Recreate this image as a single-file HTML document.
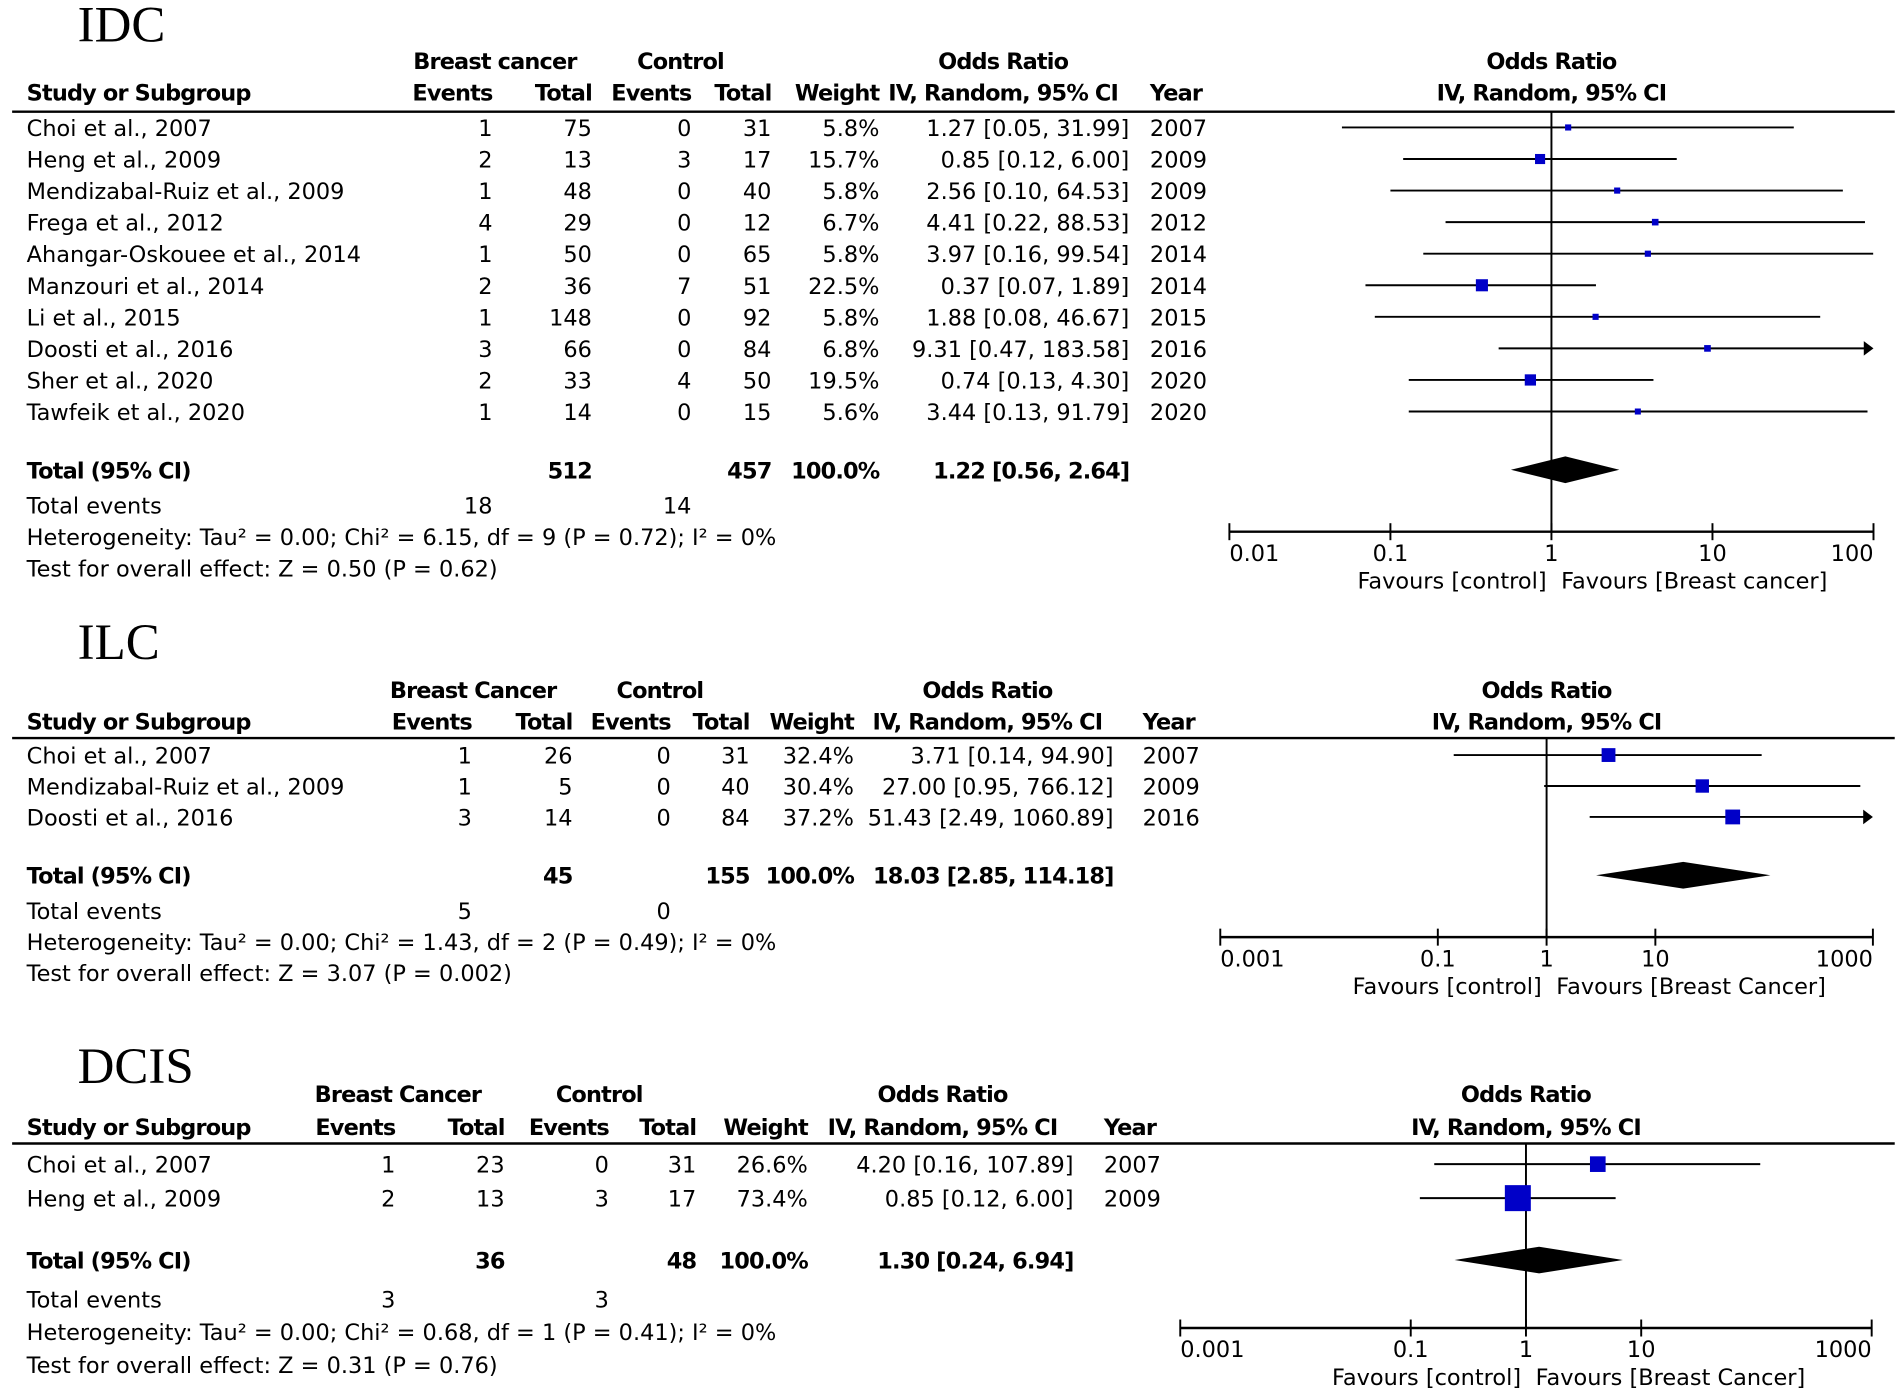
<!DOCTYPE html>
<html><head><meta charset="utf-8"><style>
html,body{margin:0;padding:0;background:#fff;}
svg{display:block;}
text{font-family:"DejaVu Sans","Liberation Sans",sans-serif;font-size:18.5px;fill:#000;}
.b{font-weight:bold;letter-spacing:-0.7px;}
.t{font-family:"Liberation Serif",serif;font-size:42px;letter-spacing:0;}
</style></head><body>
<svg id="fig" width="1902" height="1396" viewBox="0 0 1568 1150" preserveAspectRatio="none" xmlns="http://www.w3.org/2000/svg"></svg>
<script>
// ---- IDC data ----
const idcStudies=["Choi et al., 2007","Heng et al., 2009","Mendizabal-Ruiz et al., 2009","Frega et al., 2012","Ahangar-Oskouee et al., 2014","Manzouri et al., 2014","Li et al., 2015","Doosti et al., 2016","Sher et al., 2020","Tawfeik et al., 2020"];
const idcEvents1=[1,2,1,4,1,2,1,3,2,1];
const idcTotal1=[75,13,48,29,50,36,148,66,33,14];
const idcEvents2=[0,3,0,0,0,7,0,0,4,0];
const idcTotal2=[31,17,40,12,65,51,92,84,50,15];
const idcWeight=[5.8,15.7,5.8,6.7,5.8,22.5,5.8,6.8,19.5,5.6];
const idcOR=[1.27,0.85,2.56,4.41,3.97,0.37,1.88,9.31,0.74,3.44];
const idcLow=[0.05,0.12,0.10,0.22,0.16,0.07,0.08,0.47,0.13,0.13];
const idcHigh=[31.99,6.00,64.53,88.53,99.54,1.89,46.67,183.58,4.30,91.79];
const idcYear=[2007,2009,2009,2012,2014,2014,2015,2016,2020,2020];
const idcPooled=[1.22,0.56,2.64];
const idcTotals=[512,457,18,14];
const idcTicks=[0.01,0.1,1,10,100];
const idcTickLabels=["0.01","0.1","1","10","100"];
// ---- ILC data ----
const ilcStudies=["Choi et al., 2007","Mendizabal-Ruiz et al., 2009","Doosti et al., 2016"];
const ilcEvents1=[1,1,3];
const ilcTotal1=[26,5,14];
const ilcEvents2=[0,0,0];
const ilcTotal2=[31,40,84];
const ilcWeight=[32.4,30.4,37.2];
const ilcOR=[3.71,27.00,51.43];
const ilcLow=[0.14,0.95,2.49];
const ilcHigh=[94.90,766.12,1060.89];
const ilcYear=[2007,2009,2016];
const ilcPooled=[18.03,2.85,114.18];
const ilcTotals=[45,155,5,0];
const ilcTicks=[0.001,0.1,1,10,1000];
const ilcTickLabels=["0.001","0.1","1","10","1000"];
// ---- DCIS data ----
const dcisStudies=["Choi et al., 2007","Heng et al., 2009"];
const dcisEvents1=[1,2];
const dcisTotal1=[23,13];
const dcisEvents2=[0,3];
const dcisTotal2=[31,17];
const dcisWeight=[26.6,73.4];
const dcisOR=[4.20,0.85];
const dcisLow=[0.16,0.12];
const dcisHigh=[107.89,6.00];
const dcisYear=[2007,2009];
const dcisPooled=[1.30,0.24,6.94];
const dcisTotals=[36,48,3,3];
const dcisTicks=[0.001,0.1,1,10,1000];
const dcisTickLabels=["0.001","0.1","1","10","1000"];

const NS="http://www.w3.org/2000/svg";
const svg=document.getElementById('fig');
function mk(tag,attrs,parent){const e=document.createElementNS(NS,tag);for(const k in attrs)e.setAttribute(k,attrs[k]);(parent||svg).appendChild(e);return e;}
function tx(str,x,y,anchor,cls,parent){const e=mk('text',{x:x,y:y,'text-anchor':anchor||'start'},parent);if(cls)e.setAttribute('class',cls);e.textContent=str;return e;}
function f2(v){return v.toFixed(2);}

function section(c){
  const g=mk('g',{});
  
  
  const t=tx(c.title,64,c.titleY,'start','t',g);
  
  
  const h1=c.hy1,h2=c.hy2,C=c.cols;
  tx(c.grp1,C.g1,h1,'middle','b',g);tx('Control',C.g2,h1,'middle','b',g);
  tx('Odds Ratio',C.orc,h1,'middle','b',g);tx('Odds Ratio',c.x1,h1,'middle','b',g);
  tx('Study or Subgroup',22,h2,'start','b',g);
  tx('Events',C.e1,h2,'end','b',g);tx('Total',C.t1,h2,'end','b',g);
  tx('Events',C.e2,h2,'end','b',g);tx('Total',C.t2,h2,'end','b',g);
  tx('Weight',C.w,h2,'end','b',g);tx('IV, Random, 95% CI',C.orc,h2,'middle','b',g);
  tx('Year',C.yr,h2,'start','b',g);tx('IV, Random, 95% CI',c.x1,h2,'middle','b',g);
  const hl=mk('line',{x1:10,x2:1562,y1:c.lineY,y2:c.lineY,stroke:'#000','stroke-width':2},g);
  
  
  const lg=Math.log10;
  const xmin=c.ticks[0],xmax=c.ticks[c.ticks.length-1];
  const X=v=>c.x1+lg(v)*c.dec;
  const xL=X(xmin),xR=X(xmax);
  const nl=mk('line',{x1:X(1),x2:X(1),y1:c.lineY,y2:c.axisY,stroke:'#000','stroke-width':1.6},g);
  
  
  const d=c.d;
  for(let i=0;i<d.studies.length;i++){
    const y=c.row0+i*c.rowH;
    const r=mk('g',{},g);
    
    
    tx(d.studies[i],22,y,'start','',r);
    tx(String(d.e1[i]),C.e1,y,'end','',r);tx(String(d.t1[i]),C.t1,y,'end','',r);
    tx(String(d.e2[i]),C.e2,y,'end','',r);tx(String(d.t2[i]),C.t2,y,'end','',r);
    tx(d.w[i].toFixed(1)+'%',C.w,y,'end','',r);
    tx(f2(d.or[i])+' ['+f2(d.lo[i])+', '+f2(d.hi[i])+']',C.ci,y,'end','',r);
    tx(String(d.yr[i]),C.yr,y,'start','',r);
    const cy=y-7;
    const over=d.hi[i]>xmax;
    const xa=Math.max(X(d.lo[i]),xL), xb=over?xR:X(d.hi[i]);
    const ci=mk('line',{x1:xa,x2:xb-(over?6:0),y1:cy,y2:cy,stroke:'#000','stroke-width':1.6},g);
    
    
    if(over){const ar=mk('polygon',{points:(xR-8)+','+(cy-6)+' '+xR+','+cy+' '+(xR-8)+','+(cy+6),fill:'#000'},g);
      
      }
    const s=c.k*Math.sqrt(d.w[i]);
    const sq=mk('rect',{x:X(d.or[i])-s/2,y:cy-s/2,width:s,height:s,fill:'#0000c8'},g);
    
    
  }
  const ty=c.totY;
  tx('Total (95% CI)',22,ty,'start','b',g);
  tx(String(d.tot[0]),C.t1,ty,'end','b',g);tx(String(d.tot[1]),C.t2,ty,'end','b',g);
  tx('100.0%',C.w,ty,'end','b',g);
  tx(f2(d.pool[0])+' ['+f2(d.pool[1])+', '+f2(d.pool[2])+']',C.ci,ty,'end','b',g);
  const dy=ty-7,hh=11;
  const dm=mk('polygon',{points:X(d.pool[1])+','+dy+' '+X(d.pool[0])+','+(dy-hh)+' '+X(d.pool[2])+','+dy+' '+X(d.pool[0])+','+(dy+hh),fill:'#000'},g);
  
  
  tx('Total events',22,c.evY,'start','',g);
  tx(String(d.tot[2]),C.e1,c.evY,'end','',g);tx(String(d.tot[3]),C.e2,c.evY,'end','',g);
  tx(c.het,22,c.evY+c.lh,'start','',g);
  tx(c.test,22,c.evY+2*c.lh,'start','',g);
  const ax=mk('line',{x1:xL,x2:xR,y1:c.axisY,y2:c.axisY,stroke:'#000','stroke-width':2},g);
  
  
  for(let i=0;i<c.ticks.length;i++){
    const xx=X(c.ticks[i]);
    mk('line',{x1:xx,x2:xx,y1:c.axisY-7,y2:c.axisY+7,stroke:'#000','stroke-width':1.6},g);
    const anc=i==0?'start':(i==c.ticks.length-1?'end':'middle');
    const lb=tx(c.tickLabels[i],xx,c.axisY+24,anc,'',g);
    
    
  }
  tx('Favours [control]',X(1)-4,c.axisY+47,'end','',g);
  tx(c.fav,X(1)+8,c.axisY+47,'start','',g);
}

section({name:'idc',title:'IDC',titleY:34,hy1:57,hy2:83,lineY:92,row0:112,rowH:26,totY:394,evY:423,lh:26,
  grp1:'Breast cancer',cols:{g1:408,g2:561,orc:827,e1:406,t1:488,e2:570,t2:636,w:725,ci:931,yr:948},
  x1:1279,dec:132.75,axisY:438,ticks:idcTicks,tickLabels:idcTickLabels,k:2.1,
  het:'Heterogeneity: Tau² = 0.00; Chi² = 6.15, df = 9 (P = 0.72); I² = 0%',
  test:'Test for overall effect: Z = 0.50 (P = 0.62)',fav:'Favours [Breast cancer]',
  d:{studies:idcStudies,e1:idcEvents1,t1:idcTotal1,e2:idcEvents2,t2:idcTotal2,w:idcWeight,or:idcOR,lo:idcLow,hi:idcHigh,yr:idcYear,pool:idcPooled,tot:idcTotals}});
section({name:'ilc',title:'ILC',titleY:543,hy1:575,hy2:601,lineY:608,row0:629,rowH:25.5,totY:728,evY:757,lh:25.5,
  grp1:'Breast Cancer',cols:{g1:390,g2:544,orc:814,e1:389,t1:472,e2:553,t2:618,w:704,ci:918,yr:942},
  x1:1275,dec:89.67,axisY:772,ticks:ilcTicks,tickLabels:ilcTickLabels,k:2.0,
  het:'Heterogeneity: Tau² = 0.00; Chi² = 1.43, df = 2 (P = 0.49); I² = 0%',
  test:'Test for overall effect: Z = 3.07 (P = 0.002)',fav:'Favours [Breast Cancer]',
  d:{studies:ilcStudies,e1:ilcEvents1,t1:ilcTotal1,e2:ilcEvents2,t2:ilcTotal2,w:ilcWeight,or:ilcOR,lo:ilcLow,hi:ilcHigh,yr:ilcYear,pool:ilcPooled,tot:ilcTotals}});
section({name:'dcis',title:'DCIS',titleY:892,hy1:908,hy2:935,lineY:942,row0:966,rowH:28,totY:1045,evY:1077,lh:27,
  grp1:'Breast Cancer',cols:{g1:328,g2:494,orc:777,e1:326,t1:416,e2:502,t2:574,w:666,ci:885,yr:910},
  x1:1258,dec:95,axisY:1094,ticks:dcisTicks,tickLabels:dcisTickLabels,k:2.5,
  het:'Heterogeneity: Tau² = 0.00; Chi² = 0.68, df = 1 (P = 0.41); I² = 0%',
  test:'Test for overall effect: Z = 0.31 (P = 0.76)',fav:'Favours [Breast Cancer]',
  d:{studies:dcisStudies,e1:dcisEvents1,t1:dcisTotal1,e2:dcisEvents2,t2:dcisTotal2,w:dcisWeight,or:dcisOR,lo:dcisLow,hi:dcisHigh,yr:dcisYear,pool:dcisPooled,tot:dcisTotals}});
</script>
</body></html>
